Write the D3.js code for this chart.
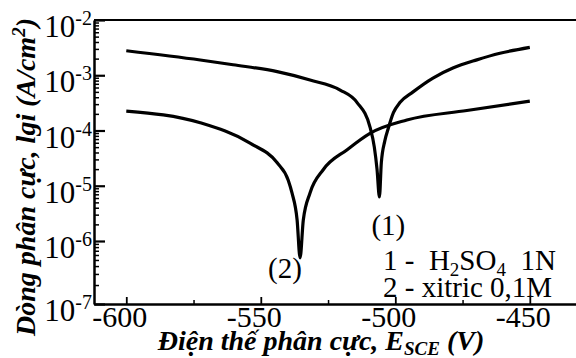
<!DOCTYPE html>
<html>
<head>
<meta charset="utf-8">
<script src="https://cdn.jsdelivr.net/npm/d3@7"></script>
<style>
  body { margin: 0; background: #fff; }
  svg { display: block; }
  svg text { font-family: 'Times New Roman'; }
</style>
</head>
<body>
<svg id="chart" width="576" height="358"></svg>
<script>
// Tafel polarisation curves (E in mV, i in A/cm2)
const eH2so4 = [-600, -572.5, -560.3, -543.9, -531.7, -520.5, -514.2, -509.4, -507.8, -506.8,
  -505.9, -505.2, -503.9, -502.6, -500.7, -498.3, -493.4, -486.0, -478.6, -469.7, -461.1, -450];
const iH2so4 = [2.78e-3, 1.89e-3, 1.55e-3, 1.16e-3, 8.2e-4, 5.4e-4, 3.2e-4, 1.15e-4, 5.0e-5, 2.0e-5,
  6.3e-6, 2.6e-5, 6.5e-5, 1.1e-4, 2.1e-4, 3.2e-4, 5.0e-4, 8.9e-4, 1.35e-3, 1.9e-3, 2.5e-3, 3.2e-3];

const eCitric = [-600, -572.5, -554.0, -543.9, -539.8, -538.4, -536.5, -535.4, -534.2, -531.7,
  -526.8, -517.9, -509.4, -495.7, -473.4, -450];
const iCitric = [2.25e-4, 1.38e-4, 5.9e-5, 2.6e-5, 1.26e-5, 7.4e-6, 2.4e-6, 5.4e-7, 2.4e-6, 7.4e-6,
  1.95e-5, 4.5e-5, 8.9e-5, 1.55e-4, 2.3e-4, 3.4e-4];

const xTicks = [-600, -550, -500, -450];
const xMinor = [-575, -525, -475];
const yExps = [-7, -6, -5, -4, -3, -2];

const legendLines = [
  [{ t: "1 -\u00a0\u00a0H" }, { t: "2", sub: true }, { t: "SO" }, { t: "4", sub: true }, { t: "\u00a0\u00a01N" }],
  [{ t: "2 - xitric 0,1M" }]
];
const curveTags = [
  { text: "(1)", e: -502.6, i: 1.3e-6 },
  { text: "(2)", e: -541.0, i: 2.6e-7 }
];

// a generic "serif" or "Liberation Serif" resolves to a sans face in this browser,
// the lone Times New Roman name gets the serif fallback
const FONT = "'Times New Roman'";

const svg = d3.select("#chart");

const x = d3.scaleLinear().domain([-612, -428]).range([94, 589]);
// the decades in the picture are not quite even, the bottom one is taller
const y = d3.scaleLog().domain([1e-7, 1e-6, 1e-2]).range([304, 241, 20]);

const yMajor = yExps.map(k => Math.pow(10, k));
const yMinor = [];
yExps.slice(0, -1).forEach(k => {
  for (let m = 2; m <= 9; m++) yMinor.push(m * Math.pow(10, k));
});

// top frame line
svg.append("line")
  .attr("x1", x.range()[0]).attr("x2", x.range()[1])
  .attr("y1", y(1e-2)).attr("y2", y(1e-2))
  .attr("stroke", "#000").attr("stroke-width", 2);

// y axis, ticks pointing inwards
svg.append("g")
  .attr("transform", `translate(${x.range()[0]},0)`)
  .call(d3.axisLeft(y).tickValues(yMinor).tickSize(-5).tickSizeOuter(0).tickFormat(""))
  .call(g => g.select(".domain").remove())
  .call(g => g.selectAll("line").attr("stroke-width", 1.5));

svg.append("g")
  .attr("transform", `translate(${x.range()[0]},0)`)
  .call(d3.axisLeft(y).tickValues(yMajor).tickSize(-11).tickSizeOuter(0).tickFormat(""))
  .call(g => g.select(".domain").attr("stroke-width", 2.5))
  .call(g => g.selectAll("line").attr("stroke-width", 2.2));

// y tick labels 10^k
const yLab = svg.append("g");
yExps.forEach(k => {
  const t = yLab.append("text")
    .attr("x", 92).attr("y", y(Math.pow(10, k)) + 17)
    .attr("text-anchor", "end")
    .style("font-family", FONT)
    .attr("font-size", 31);
  t.append("tspan").text("10");
  t.append("tspan").attr("font-size", 20).attr("dy", -12).text(k);
});

// x axis
const xAxisY = y(1e-7);
svg.append("g")
  .attr("transform", `translate(0,${xAxisY})`)
  .call(d3.axisBottom(x).tickValues(xMinor).tickSize(-4).tickSizeOuter(0).tickFormat(""))
  .call(g => g.select(".domain").remove())
  .call(g => g.selectAll("line").attr("stroke-width", 1.5));

svg.append("g")
  .attr("transform", `translate(0,${xAxisY})`)
  .call(d3.axisBottom(x).tickValues(xTicks).tickSize(-7).tickSizeOuter(0).tickPadding(2)
    .tickFormat(d => String(d)))
  .attr("font-size", 30)
  .call(g => g.select(".domain").attr("stroke-width", 2.5))
  .call(g => g.selectAll("line").attr("stroke-width", 1.8))
  .call(g => g.selectAll("text").attr("dx", -7).style("font-family", FONT));

// curves
const line = d3.line()
  .x(d => x(d[0]))
  .y(d => y(d[1]))
  .curve(d3.curveMonotoneX);

[[eH2so4, iH2so4], [eCitric, iCitric]].forEach(([es, is]) => {
  svg.append("path")
    .datum(es.map((e, j) => [e, is[j]]))
    .attr("d", line)
    .attr("fill", "none")
    .attr("stroke", "#000")
    .attr("stroke-width", 3.2);
});

// curve tags
curveTags.forEach(c => {
  svg.append("text")
    .attr("x", x(c.e)).attr("y", y(c.i))
    .attr("text-anchor", "middle")
    .style("font-family", FONT)
    .attr("font-size", 29)
    .text(c.text);
});

// legend
legendLines.forEach((parts, r) => {
  const t = svg.append("text")
    .attr("x", 383).attr("y", 270 + r * 27)
    .style("font-family", FONT)
    .attr("font-size", 29);
  let shift = 0;
  parts.forEach(p => {
    const dy = p.sub ? 6 - shift : -shift;
    shift = p.sub ? 6 : 0;
    t.append("tspan")
      .attr("font-size", p.sub ? 19 : null)
      .attr("dy", dy)
      .text(p.t);
  });
});

// axis titles
const xt = svg.append("text")
  .attr("x", 321).attr("y", 350)
  .attr("text-anchor", "middle")
  .style("font-family", FONT)
  .attr("font-size", 28)
  .attr("font-weight", "bold")
  .attr("font-style", "italic");
xt.append("tspan").text("Điện thế phân cực, E");
xt.append("tspan").attr("font-size", 19).attr("dy", 5).text("SCE");
xt.append("tspan").attr("dy", -5).text(" (V)");

const yt = svg.append("text")
  .attr("transform", "translate(35,177) rotate(-90)")
  .attr("text-anchor", "middle")
  .style("font-family", FONT)
  .attr("font-size", 28)
  .attr("font-weight", "bold")
  .attr("font-style", "italic");
yt.append("tspan").text("Dòng phân cực, lgi (A/cm");
yt.append("tspan").attr("font-size", 19).attr("dy", -10).text("2");
yt.append("tspan").attr("dy", 10).text(")");
</script>
</body>
</html>
